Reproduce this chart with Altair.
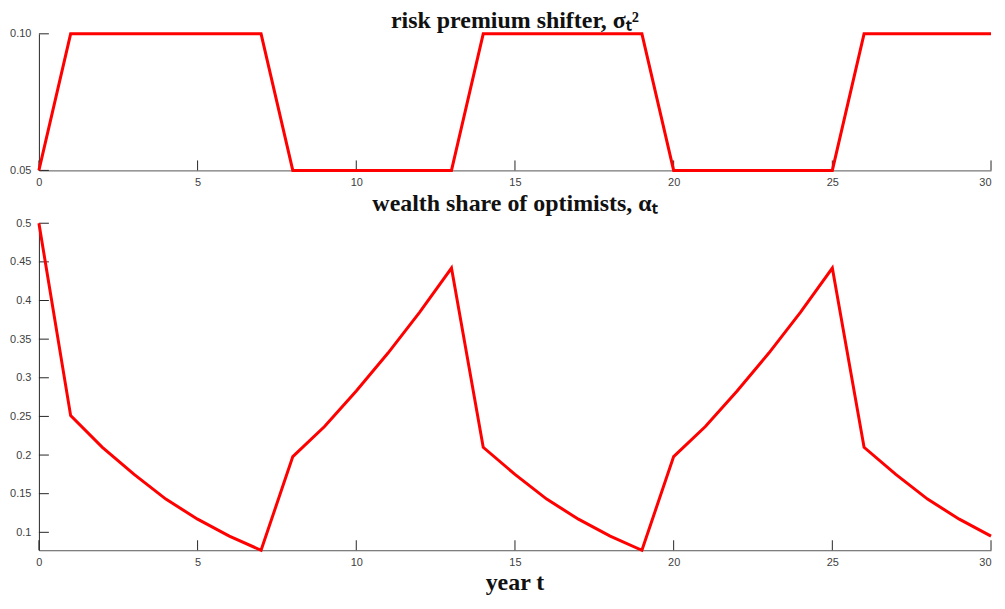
import altair as alt
import pandas as pd

years = list(range(31))
sigma2 = [0.05, 0.10, 0.10, 0.10, 0.10, 0.10, 0.10, 0.10,
          0.05, 0.05, 0.05, 0.05, 0.05, 0.05,
          0.10, 0.10, 0.10, 0.10, 0.10, 0.10,
          0.05, 0.05, 0.05, 0.05, 0.05, 0.05,
          0.10, 0.10, 0.10, 0.10, 0.10]
alpha = [0.500, 0.251, 0.210, 0.175, 0.143, 0.117, 0.095, 0.0768,
         0.198, 0.237, 0.283, 0.332, 0.385, 0.442,
         0.210, 0.175, 0.143, 0.117, 0.095, 0.0768,
         0.198, 0.237, 0.283, 0.332, 0.385, 0.442,
         0.210, 0.175, 0.143, 0.117, 0.095]

x_ticks = [0, 5, 10, 15, 20, 25, 30]
top_y_ticks = [0.05, 0.10]
bot_y_ticks = [0.1, 0.15, 0.2, 0.25, 0.3, 0.35, 0.4, 0.45, 0.5]

title_top = "risk premium shifter, σₜ²"
title_bot = "wealth share of optimists, αₜ"
xlabel = "year t"

df = pd.DataFrame({"t": years, "s": sigma2, "a": alpha})
dfx = pd.DataFrame({"t": x_ticks})

W = 955
H1 = 137
H2 = 328
TICK = 10
RED = "#FF0000"
LABEL_FONT = "Liberation Sans"
TITLE_FONT = "Liberation Serif"
TITLE_SIZE = 24

xscale = alt.Scale(domain=[0, 30], nice=False, zero=False)
yscale_top = alt.Scale(domain=[0.05, 0.10], nice=False, zero=False)
yscale_bot = alt.Scale(domain=[0.0768, 0.5], nice=False, zero=False)


def xaxis():
    return alt.Axis(values=x_ticks, ticks=False, grid=False, labelPadding=6,
                    labelFont=LABEL_FONT, labelFontSize=11, labelColor="#404040",
                    domainColor="#555555", domainWidth=1, format="d", title=None,
                    labelAlign={"condition": {"test": "datum.value == 30", "value": "right"},
                                "value": "center"},
                    minExtent=16, maxExtent=16)


def yaxis(vals, fmt):
    return alt.Axis(values=vals, ticks=False, grid=False, labelPadding=8,
                    labelFont=LABEL_FONT, labelFontSize=11, labelColor="#404040",
                    domainColor="#262626", domainWidth=1, format=fmt, title=None,
                    minExtent=31, maxExtent=31)


def text_layer(label, ypix):
    return alt.Chart(pd.DataFrame({"label": [label]})).mark_text(
        font=TITLE_FONT, fontSize=TITLE_SIZE, fontWeight="bold", color="#111111",
        align="center", baseline="alphabetic",
    ).encode(text="label:N", x=alt.value(W / 2), y=alt.value(ypix))


def panel(ycol, yscale, yvals, fmt, H, title, title_gap, xtitle=None):
    line = alt.Chart(df).mark_line(color=RED, strokeWidth=3, clip=False).encode(
        x=alt.X("t:Q", scale=xscale, axis=xaxis()),
        y=alt.Y(f"{ycol}:Q", scale=yscale, axis=yaxis(yvals, fmt)),
    )
    xt = alt.Chart(dfx).mark_rule(color="#262626", strokeWidth=1).encode(
        x=alt.X("t:Q", scale=xscale),
        y=alt.value(H), y2=alt.value(H - TICK),
    )
    yt = alt.Chart(pd.DataFrame({"v": yvals})).mark_rule(color="#262626", strokeWidth=1).encode(
        y=alt.Y("v:Q", scale=yscale),
        x=alt.value(0), x2=alt.value(TICK),
    )
    layers = [xt, yt, line, text_layer(title, -title_gap)]
    if xtitle is not None:
        layers.append(text_layer(xtitle, H + 40))
    return alt.layer(*layers).properties(width=W, height=H)


top = panel("s", yscale_top, top_y_ticks, ".2f", H1, title_top, 6)
bot = panel("a", yscale_bot, bot_y_ticks, "~g", H2, title_bot, 12, xtitle=xlabel)

chart = alt.vconcat(top, bot, spacing=5).properties(
    padding={"left": 0, "top": 0, "right": 0, "bottom": 0}
).configure(background="white").configure_view(stroke=None)

chart.save("out.html", embed_options={"renderer": "svg", "actions": False})
